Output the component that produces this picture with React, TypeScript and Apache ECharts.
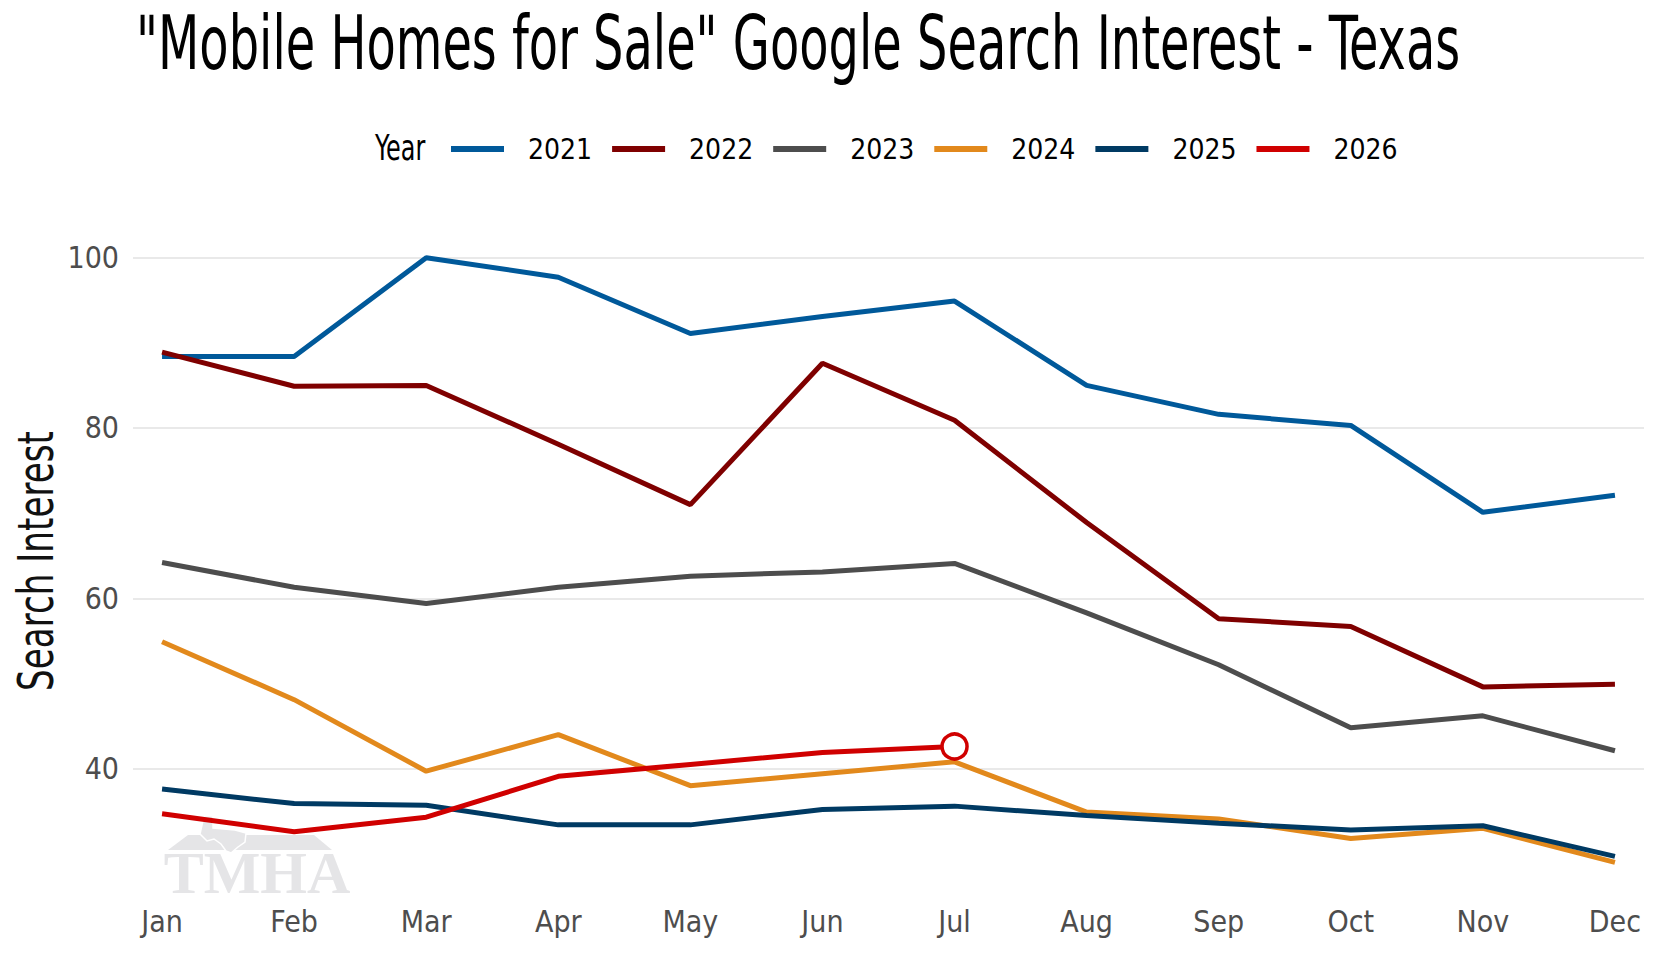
import React, { useEffect, useRef } from "react";
import * as echarts from "echarts";

const months = ["Jan", "Feb", "Mar", "Apr", "May", "Jun", "Jul", "Aug", "Sep", "Oct", "Nov", "Dec"];
const yTicks = [40, 60, 80, 100];

const years = ["2021", "2022", "2023", "2024", "2025", "2026"];
const colors = ["#00599a", "#7f0000", "#4d4d4d", "#e2891c", "#003a63", "#d00000"];

const v2021 = [88.4, 88.4, 100, 97.7, 91.1, 93.1, 94.9, 85.0, 81.6, 80.3, 70.1, 72.1];
const v2022 = [88.9, 84.9, 85.0, 78.1, 71.0, 87.6, 80.9, 68.9, 57.6, 56.7, 49.6, 49.9];
const v2023 = [64.2, 61.3, 59.4, 61.3, 62.6, 63.1, 64.1, 58.3, 52.2, 44.8, 46.2, 42.1];
const v2024 = [54.9, 48.1, 39.7, 44.0, 38.0, 39.4, 40.8, 34.9, 34.1, 31.8, 33.0, 29.0];
const v2025 = [37.6, 35.9, 35.7, 33.4, 33.4, 35.2, 35.6, 34.5, 33.6, 32.8, 33.3, 29.7];
const v2026 = [34.7, 32.6, 34.3, 39.1, 40.5, 41.9, 42.6];

const seriesValues = [v2021, v2022, v2023, v2024, v2025, v2026];

const FONT = "'DejaVu Sans Condensed', 'Liberation Sans Narrow', sans-serif";
const LOGO_GREY = "#e5e5e7";

const App: React.FC = () => {
  const chartRef = useRef<HTMLDivElement | null>(null);

  useEffect(() => {
    document.body.style.margin = "0";
    const dom = chartRef.current;
    if (!dom) return;
    const chart = echarts.init(dom, null, { renderer: "svg" });

    const series: any[] = seriesValues.map((vals, si) => {
      const last = si === seriesValues.length - 1;
      return {
        name: years[si],
        type: "line",
        symbol: "none",
        showSymbol: last,
        z: 2 + si,
        lineStyle: { color: colors[si], width: 5 },
        itemStyle: { color: colors[si] },
        emphasis: { disabled: true },
        data: vals.map((v, i) =>
          last && i === vals.length - 1
            ? {
                value: [i, v],
                symbol: "circle",
                symbolSize: 25,
                itemStyle: { color: "#ffffff", borderColor: colors[si], borderWidth: 3.5 },
              }
            : [i, v]
        ),
      };
    });

    const option = {
      animation: false,
      legend: {
        data: years,
        left: 446,
        top: 130,
        icon: "rect",
        itemWidth: 53,
        itemHeight: 6,
        itemGap: 20,
        selectedMode: false,
        textStyle: { fontFamily: FONT, fontSize: 28, lineHeight: 28, color: "#000", padding: [0, 0, 0, 19] },
      },
      grid: { left: 133, top: 227, width: 1511, height: 666, containLabel: false },
      xAxis: {
        type: "value",
        min: -0.22,
        max: 11.22,
        axisLine: { show: false },
        axisTick: { show: false, customValues: months.map((_, i) => i) },
        splitLine: { show: false },
        axisLabel: {
          customValues: months.map((_, i) => i),
          formatter: (v: number) => months[Math.round(v)] ?? "",
          margin: 13,
          fontFamily: FONT,
          fontSize: 30,
          lineHeight: 30,
          color: "#4d4d4d",
        },
      },
      yAxis: {
        type: "value",
        min: 25.4,
        max: 103.6,
        axisLine: { show: false },
        axisTick: { show: false, customValues: yTicks },
        splitLine: { show: true, lineStyle: { color: "#e9e9e9", width: 2 } },
        axisLabel: {
          customValues: yTicks,
          margin: 14,
          fontFamily: FONT,
          fontSize: 30,
          color: "#4d4d4d",
        },
      },
      graphic: [
        {
          type: "text",
          x: 136,
          y: 43,
          scaleX: 0.71,
          style: {
            text: '"Mobile Homes for Sale" Google Search Interest - Texas',
            fontFamily: FONT,
            fontSize: 75,
            fill: "#000",
            align: "left",
            verticalAlign: "middle",
          },
        },
        {
          type: "text",
          x: 375,
          y: 148,
          scaleX: 0.76,
          style: {
            text: "Year",
            fontFamily: FONT,
            fontSize: 35,
            fill: "#000",
            align: "left",
            verticalAlign: "middle",
          },
        },
        {
          type: "text",
          x: 36,
          y: 561,
          rotation: Math.PI / 2,
          scaleX: 0.76,
          style: {
            text: "Search Interest",
            fontFamily: FONT,
            fontSize: 50,
            fill: "#111",
            align: "center",
            verticalAlign: "middle",
          },
        },
        {
          type: "group",
          z: 0,
          children: [
            {
              type: "polygon",
              shape: { points: [[168, 850], [188, 835], [314, 835], [332, 850]] },
              style: { fill: LOGO_GREY },
              z: 0,
            },
            {
              type: "polygon",
              shape: {
                points: [
                  [204, 816], [213, 816], [213, 828], [235, 830], [246, 833], [245, 842],
                  [238, 847], [231, 853], [226, 851], [221, 844], [214, 839], [207, 841], [200, 834],
                ],
              },
              style: { fill: LOGO_GREY, stroke: "#ffffff", lineWidth: 1.5 },
              z: 0,
            },
            {
              type: "text",
              x: 257,
              y: 873,
              style: {
                text: "TMHA",
                fontFamily: "'Liberation Serif', 'DejaVu Serif', serif",
                fontWeight: "bold",
                fontSize: 60,
                lineHeight: 40,
                fill: LOGO_GREY,
                align: "center",
                verticalAlign: "middle",
              },
              z: 0,
            },
          ],
        },
      ],
      series,
    };

    chart.setOption(option);
    return () => {
      chart.dispose();
    };
  }, []);

  return <div ref={chartRef} style={{ width: "1660px", height: "960px" }} />;
};

export default App;
